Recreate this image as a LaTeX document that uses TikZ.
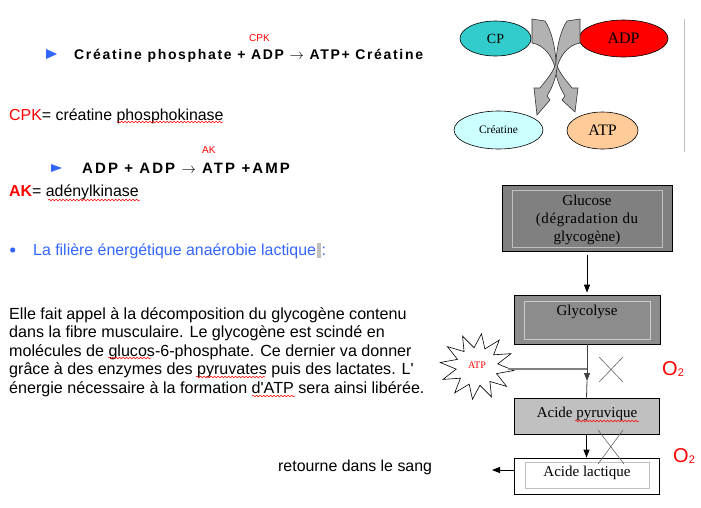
\documentclass[tikz,border=0pt]{standalone}
\usepackage{fontspec}
\setmainfont{Liberation Sans}
\newfontfamily\tms{Liberation Serif}
\usetikzlibrary{arrows.meta,decorations.pathmorphing,shapes.geometric,calc}
\definecolor{blu}{HTML}{3366FF}
\definecolor{cpc}{HTML}{33CCCC}
\definecolor{creac}{HTML}{CCFFFF}
\definecolor{atpc}{HTML}{FFCC99}
\definecolor{arrgrey}{HTML}{B2B2B2}
\definecolor{gluc}{HTML}{808080}
\definecolor{glyc}{HTML}{8C8C8C}
\definecolor{pyrc}{HTML}{C0C0C0}
\definecolor{cursorc}{HTML}{C0C0C0}
\newcommand\setfs[1]{\fontsize{#1}{#1}\selectfont}
\begin{document}
\begin{tikzpicture}[x=1pt,y=-1pt,
 txt/.style={inner sep=0pt,anchor=base west},
 ctxt/.style={inner sep=0pt,anchor=base},
 wavy/.style={draw=red,line width=0.5pt,decorate,decoration={snake,amplitude=0.8pt,segment length=3.5pt}},
 ell/.style={draw=black,line width=0.6pt,ellipse,inner sep=0pt},
 box/.style={draw=black,line width=0.8pt,inner sep=0pt},
 arr/.style={-{Triangle[length=8pt,width=6pt]}},
 blockarrow/.style={fill=arrgrey,draw=black!80,line width=0.6pt},
 xmark/.style={draw=black!60,line width=0.6pt}]
\useasboundingbox (0,0) rectangle (701,507);
\fill[white] (0,0) rectangle (701,507);

% ---- left text ----
\fill[blu] (46,49) -- (57,54) -- (46,59) -- cycle;
\node[txt] (eq1) at (74,59) {\setfs{14}\bfseries\addfontfeature{LetterSpace=12}Créatine phosphate + ADP $\rightarrow$ ATP+ Créatine};
\node[txt,red] (cpk) at (249,41) {\setfs{10}CPK};
\node[txt] (cpkdef) at (9,120) {\setfs{15.9}\textcolor{red}{CPK}= créatine phosphokinase};
\draw[wavy] (117,122) -- (223,122);
\fill[blu] (51,164) -- (62,168) -- (51,172) -- cycle;
\node[txt,red] (ak) at (202,153) {\setfs{10}AK};
\node[txt] (eq2) at (82,173) {\setfs{15}\bfseries\addfontfeature{LetterSpace=14}ADP + ADP $\rightarrow$ ATP +AMP};
\node[txt] (akdef) at (9,196.5) {\setfs{15.9}\textcolor{red}{\bfseries AK}= adénylkinase};
\draw[wavy] (48,200) -- (140,200);
\fill[blu] (12.7,250) circle (2.6);
\node[txt,blu] (fil) at (33,255) {\setfs{15.9}La filière énergétique anaérobie lactique\hspace{0.5pt}\textcolor{cursorc}{\rule[-3pt]{4pt}{15pt}}\hspace{1pt}:};
\node[txt] (p1) at (9,319) {\setfs{16.1}Elle fait appel à la décomposition du glycogène contenu};
\node[txt] (p2) at (9,337.5) {\setfs{16.1}dans la fibre musculaire. Le glycogène est scindé en};
\node[txt] (p3) at (9,356) {\setfs{16.1}molécules de glucos-6-phosphate. Ce dernier va donner};
\node[txt] (p4) at (9,374.5) {\setfs{16.1}grâce à des enzymes des pyruvates puis des lactates. L\textquotesingle};
\node[txt] (p5) at (9,393) {\setfs{16.1}énergie nécessaire à la formation d\textquotesingle ATP sera ainsi libérée.};
\draw[wavy] (108,358) -- (151,358);
\draw[wavy] (196,377) -- (265,377);
\draw[wavy] (252,396) -- (295,396);
\node[txt] (ret) at (278,471) {\setfs{15.9}retourne dans le sang};

% ---- top right: CP / ADP ----
\draw[cursorc,line width=0.8pt] (684,19) -- (684,152);
\node[ell,fill=cpc,minimum width=71,minimum height=35] (cp) at (495.5,38.5) {\tms\setfs{14}CP};
\node[ell,fill=red,minimum width=89,minimum height=37] (adp) at (623.5,38.5) {\tms\setfs{16}ADP};
\node[ell,fill=creac,minimum width=89,minimum height=38] (crea) at (498.5,130) {\tms\setfs{11.5}Créatine};
\node[ell,fill=atpc,minimum width=71,minimum height=37] (atp) at (602.5,130.5) {\tms\setfs{16}ATP};
% curved block arrow CP -> ATP
\draw[blockarrow] (532,19) -- (545,21) .. controls (551,30) and (555,45) .. (556,62)
  .. controls (558,72) and (566,80) .. (572,88) -- (578,88) -- (575,112) -- (562,100) -- (565,96)
  .. controls (560,88) and (556,78) .. (555,68) .. controls (553,58) and (545,45) .. (532,43) -- cycle;
% curved block arrow ADP -> Creatine
\draw[blockarrow] (580,19) -- (567,21) .. controls (561,30) and (557,45) .. (556,62)
  .. controls (554,72) and (546,80) .. (540,88) -- (534,88) -- (537,115) -- (550,100) -- (547,96)
  .. controls (552,88) and (556,78) .. (557,68) .. controls (559,58) and (567,45) .. (580,43) -- cycle;

% ---- flow diagram ----
\node[box,fill=gluc,minimum width=170,minimum height=66] (glu) at (587,218) {};
\draw[pyrc,line width=0.8pt] ($(glu.north west)+(11,6)$) rectangle ($(glu.south east)+(-10,-4)$);
\node[ctxt] (glu1) at (587,205) {\tms\setfs{15}Glucose};
\node[ctxt] (glu2) at (587,223) {\tms\setfs{15}\addfontfeature{LetterSpace=4}(dégradation du};
\node[ctxt] (glu3) at (587,241) {\tms\setfs{15}glycogène)};

\node[box,fill=glyc,minimum width=146,minimum height=49] (glyco) at (587,319.5) {};
\draw[black!20,line width=0.8pt] ($(glyco.north west)+(11,7)$) rectangle ($(glyco.south east)+(-10,-5)$);
\node[ctxt] (glyt) at (587,315) {\tms\setfs{15}Glycolyse};

\node[box,fill=pyrc,minimum width=145,minimum height=36] (pyr) at (586.5,416) {};
\node[ctxt] (pyrt) at (587,417) {\tms\setfs{15}Acide pyruvique};
\draw[wavy] (575,421) -- (639,421);

\node[box,fill=white,minimum width=145,minimum height=36] (lac) at (586.5,476) {};
\draw[pyrc,line width=0.8pt] ($(lac.north west)+(12,5)$) rectangle ($(lac.south east)+(-10,-6)$);
\node[ctxt] (lact) at (587,476) {\tms\setfs{15}Acide lactique};

\draw[arr,line width=0.8pt] ($(glu.south)+(0,4)$) -- ($(glyco.north)+(0,-2)$);
\coordinate (m1) at (587,381);
\draw[arr,black!75,line width=0.8pt] (glyco.south) -- (m1);
\draw[black!75,line width=0.8pt] (m1) -- (pyr.north);
\draw[arr,line width=0.8pt] (pyr.south) -- (lac.north);
\coordinate (rt) at (492,470);
\draw[arr,line width=0.8pt] ($(lac.west)+(0,-6)$) -- (rt);

% ATP star
\draw[line width=0.6pt,fill=white] plot[variable=\k,samples at={0,...,23}]
  ({477+ifthenelse(mod(\k,2)==0,37,21)*cos(7+15*\k)},{366.5+ifthenelse(mod(\k,2)==0,33,19)*sin(7+15*\k)}) -- cycle;
\node[ctxt,red] (atpx) at (477,368) {\tms\setfs{10}ATP};
\coordinate (se) at (508,369);
\coordinate (j1) at (587,369);
\draw[black!50,line width=2pt] (se) -- (j1);

% crosses
\draw[xmark] (599,357) -- (623,382) (623,357) -- (599,382);
\draw[xmark] (598,430) -- (624,464) (623,430) -- (598,464);

\node[txt,red] (o2a) at (662,375) {\setfs{20}O\setfs{11}\raisebox{-1pt}{2}};
\node[txt,red] (o2b) at (673,462) {\setfs{20}O\setfs{11}\raisebox{-1pt}{2}};
\end{tikzpicture}
\end{document}
